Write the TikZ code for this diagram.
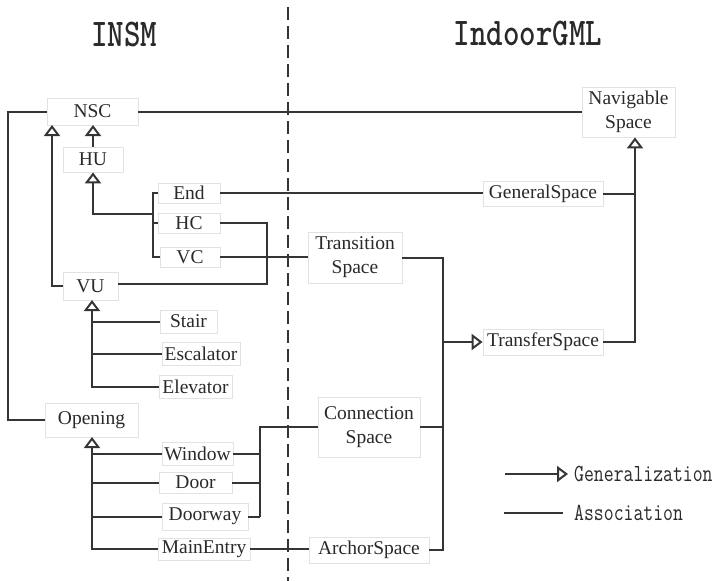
\documentclass[tikz,border=0pt]{standalone}
\usepackage{fontspec}
\setmainfont{Liberation Serif}
\usetikzlibrary{arrows.meta}
\definecolor{ln}{HTML}{353535}
\definecolor{bx}{HTML}{E2E2E2}
\definecolor{tx}{HTML}{2A2A2A}
\begin{document}
\begin{tikzpicture}[x=1pt,y=-1pt,
  cls/.style={draw=bx,line width=0.8pt,fill=white,text=tx,inner sep=0pt,
    font=\fontsize{19.5}{24}\selectfont,align=center},
  assoc/.style={draw=ln,line width=2pt},
  gen/.style={draw=ln,line width=2pt,-{Triangle[open,length=11pt,width=16pt,line width=2pt]}},
  ttl/.style={text=tx,inner sep=0pt},
]
\useasboundingbox (0,0) rectangle (718,581);
% titles
\node[ttl] (tINSM) at (124,35) {\scalebox{1}[1.25]{\fontsize{31.4}{34}\ttfamily\bfseries INSM}};
\node[ttl] (tIGML) at (528,34) {\scalebox{1}[1.25]{\fontsize{31.4}{34}\ttfamily\bfseries IndoorGML}};
% divider
\coordinate (dvT) at (288,7);
\coordinate (dvB) at (288,581);
% nodes
\node[cls,minimum width=91pt,minimum height=27pt] (NSC) at (92.5,111.5) {NSC};
\node[cls,minimum width=60pt,minimum height=25pt] (HU) at (93,159.5) {HU};
\node[cls,minimum width=62pt,minimum height=20pt] (End) at (189,193) {End};
\node[cls,minimum width=62pt,minimum height=20pt] (HC) at (189,223) {HC};
\node[cls,minimum width=60pt,minimum height=20pt] (VC) at (190,257) {VC};
\node[cls,minimum width=55pt,minimum height=28pt] (VU) at (90.5,286) {VU};
\node[cls,minimum width=57pt,minimum height=23pt] (Stair) at (188.5,321.5) {Stair};
\node[cls,minimum width=78pt,minimum height=23pt] (Esc) at (201,353.5) {Escalator};
\node[cls,minimum width=73pt,minimum height=23pt] (Elev) at (195.5,386.5) {Elevator};
\node[cls,minimum width=93pt,minimum height=34pt] (Open) at (91.5,420) {Opening};
\node[cls,minimum width=71pt,minimum height=23pt] (Win) at (197.5,453.5) {Window};
\node[cls,minimum width=73pt,minimum height=21pt] (Door) at (195.5,482.5) {Door};
\node[cls,minimum width=86pt,minimum height=27pt] (Dway) at (205,516.5) {Doorway};
\node[cls,minimum width=92pt,minimum height=22pt] (Main) at (204,549) {MainEntry};
\node[cls,minimum width=93pt,minimum height=50pt] (Nav) at (628.5,112) {Navigable\\Space};
\node[cls,minimum width=120pt,minimum height=25pt] (Gen) at (543,193.5) {GeneralSpace};
\node[cls,minimum width=94pt,minimum height=51pt] (Trans) at (355,257.5) {Transition\\Space};
\node[cls,minimum width=120pt,minimum height=26pt] (Transf) at (543,342) {TransferSpace};
\node[cls,minimum width=102pt,minimum height=60pt] (Conn) at (369,427) {Connection\\Space};
\node[cls,minimum width=120pt,minimum height=26pt] (Arch) at (369,550) {ArchorSpace};
% junction coordinates
\coordinate (jL) at (8,0);
\coordinate (jBr) at (153,0);
\coordinate (jHC) at (267,0);
\coordinate (jOp) at (260,0);
\coordinate (jTr) at (443,0);
\coordinate (jNav) at (635,0);
% associations
\draw[assoc] (NSC.west) -- (NSC.west -| jL) -- (Open.west -| jL) -- (Open.west);
\draw[assoc] (NSC.east) -- (Nav.west |- NSC.east);
\draw[assoc] (End.east) -- (Gen.west |- End.east);
\draw[assoc] (HC.east) -- (HC.east -| jHC) -- (jHC |- 0,284) -- (VU.east |- 0,284);
\draw[assoc] (VC.east) -- (Trans.west |- VC.east);
\draw[assoc] (Main.east) -- (Arch.west |- Main.east);
\draw[assoc] (Win.east) -- (Win.east -| jOp);
\draw[assoc] (Door.east) -- (Door.east -| jOp);
\draw[assoc] (Dway.east) -- (Dway.east -| jOp);
\draw[assoc] (jOp |- Dway.east) -- (jOp |- Conn.west) -- (Conn.west);
\draw[assoc] (Trans.east |- Trans.west) -- (jTr |- Trans.west) -- (jTr |- Arch.east) -- (Arch.east);
\draw[assoc] (Conn.east) -- (jTr |- Conn.east);
\draw[assoc] (Gen.east) -- (jNav |- Gen.east);
% bracket End/HC/VC
\draw[assoc] (End.west) -- (End.west -| jBr) -- (jBr |- VC.west) -- (VC.west);
\draw[assoc] (HC.west) -- (HC.west -| jBr);
% generalizations
\draw[gen] (jBr |- 0,214) -- (93,214) -- (HU.south);
\draw[gen] (HU.north) -- (93,125);
\draw[gen] (VU.west) -- (52,286) -- (52,125);
\draw[gen] (Elev.west) -- (92,386.5) -- (92,300);
\draw[assoc] (Stair.west) -- (92,321.5);
\draw[assoc] (Esc.west) -- (92,353.5);
\draw[gen] (Main.west) -- (92,549) -- (92,437);
\draw[assoc] (Win.west) -- (92,453.5);
\draw[assoc] (Door.west) -- (92,482.5);
\draw[assoc] (Dway.west) -- (92,516.5);
\draw[gen] (Transf.east) -- (jNav |- Transf.east) -- (jNav |- Nav.south);
\draw[gen] (jTr |- Transf.west) -- (Transf.west);
% divider
\draw[draw=ln,line width=2pt,dash pattern=on 13pt off 6pt] (dvT) -- (dvB);
% legend
\coordinate (lgA) at (505,474);
\coordinate (lgB) at (568,474);
\coordinate (lgC) at (504,513);
\coordinate (lgD) at (563,513);
\draw[gen] (lgA) -- (lgB);
\draw[assoc] (lgC) -- (lgD);
\node[ttl,anchor=west] (lgG) at (574,474) {\scalebox{1}[1.28]{\fontsize{19.2}{21}\ttfamily Generalization}};
\node[ttl,anchor=west] (lgS) at (574,513) {\scalebox{1}[1.28]{\fontsize{19.2}{21}\ttfamily Association}};
\end{tikzpicture}
\end{document}
